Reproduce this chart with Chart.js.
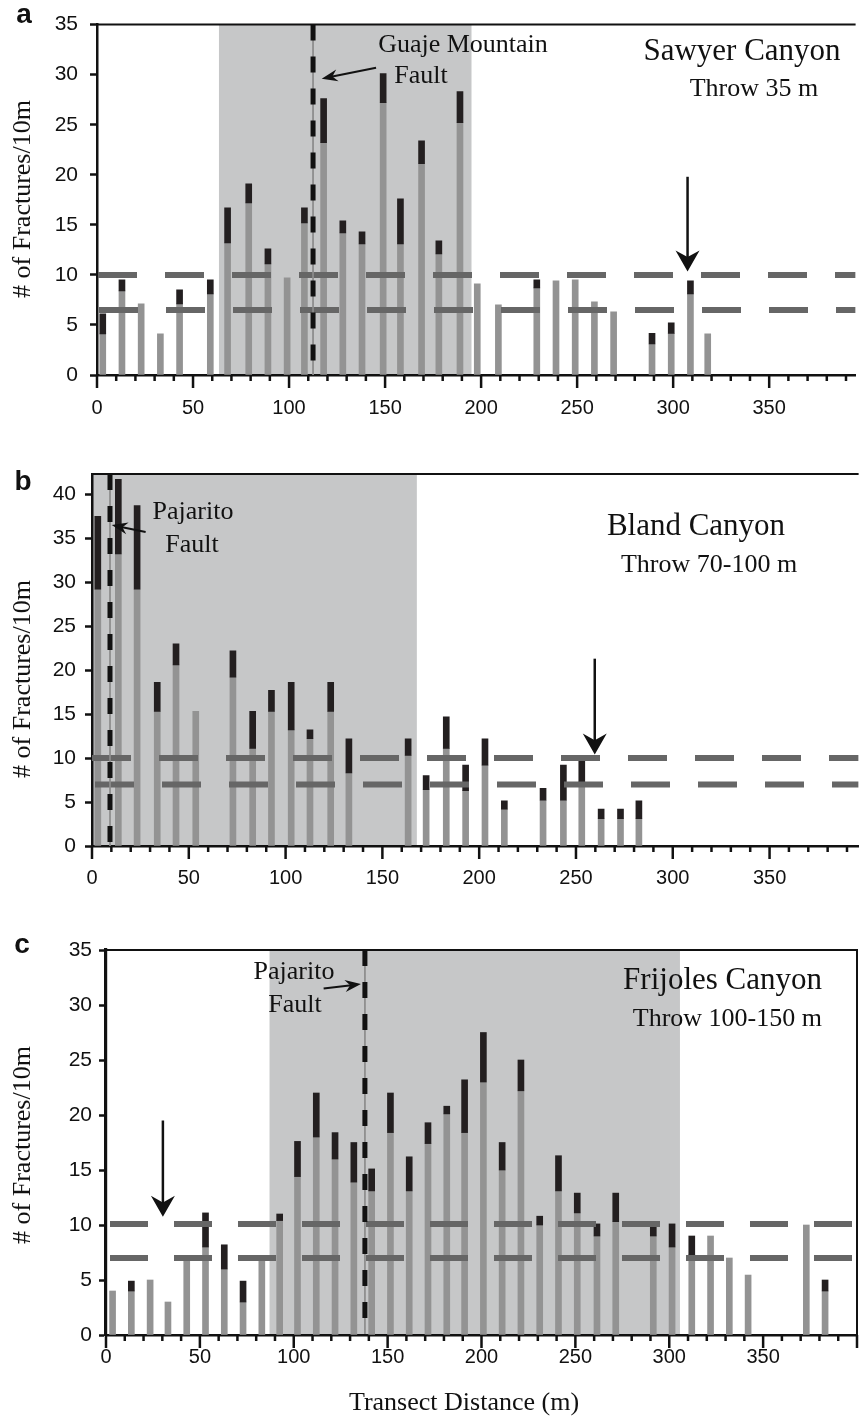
<!DOCTYPE html>
<html>
<head>
<meta charset="utf-8">
<style>
    body {
        margin: 0;
        background: #fff;
        width: 867px;
        height: 1418px;
        overflow: hidden;
        position: relative;
    }

    canvas {
        position: absolute;
        left: 0;
    }

    #chartA { top: 0; }
    #chartB { top: 440px; }
    #chartC { top: 900px; }
</style>
<script src="https://cdn.jsdelivr.net/npm/chart.js"></script>
</head>
<body>
<canvas id="chartA" width="867" height="430"></canvas>
<canvas id="chartB" width="867" height="460"></canvas>
<canvas id="chartC" width="867" height="518"></canvas>

<script>
    // ---- shared tick labels ----
    const xLabelValues = [0, 50, 100, 150, 200, 250, 300, 350];
    const yStep = 5;

    // ---- a : Sawyer Canyon ----
    const sawyerDist = [3, 13, 23, 33, 43, 59, 68, 79, 89, 99, 108, 118, 128, 138, 149, 158, 169, 178, 189, 198, 209, 229, 239, 249, 259, 269, 289, 299, 309, 318];
    const sawyerBase = [4.1, 8.4, 7.1, 4.1, 7.1, 8.1, 13.2, 17.2, 11.1, 9.7, 15.2, 23.2, 14.2, 13.1, 27.2, 13.1, 21.1, 12.1, 25.2, 9.1, 7.0, 8.7, 9.4, 9.5, 7.3, 6.3, 3.1, 4.15, 8.1, 4.1];
    const sawyerTotal = [6.1, 9.5, null, null, 8.5, 9.5, 16.7, 19.1, 12.6, null, 16.7, 27.6, 15.4, 14.3, 30.1, 17.6, 23.4, 13.4, 28.3, null, null, 9.5, null, null, null, null, 4.15, 5.2, 9.4, null];
    const sawyerLevels = [10, 6.5];
    const sawyerFault = 112.5;
    const sawyerZone = [63.5, 195];

    // ---- b : Bland Canyon ----
    const blandDist = [3, 13.6, 23.3, 33.7, 43.4, 53.6, 72.8, 83, 92.7, 102.9, 112.6, 123.3, 132.7, 163.3, 172.6, 183, 193, 203, 213, 233, 243.5, 253, 263, 273, 282.5];
    const blandBase = [29.2, 33.2, 29.2, 15.3, 20.6, 15.3, 19.2, 11.1, 15.3, 13.2, 12.2, 15.3, 8.3, 10.3, 6.4, 11.1, 6.3, 9.2, 4.2, 5.2, 5.2, 7.3, 3.1, 3.1, 3.1];
    const blandTotal = [37.5, 41.7, 38.7, 18.6, 23.0, null, 22.2, 15.3, 17.7, 18.6, 13.2, 18.6, 12.2, 12.2, 8.0, 14.7, 9.2, 12.2, 5.15, 6.55, 9.2, 9.7, 4.2, 4.2, 5.15];
    const blandLevels = [10, 7];
    const blandFault = 9.3;
    const blandZone = [0, 167.8];

    // ---- c : Frijoles Canyon ----
    const frijolesDist = [3.5, 13.5, 23.5, 33, 43, 53, 63, 73, 83, 92.5, 102, 112, 122, 132, 141.5, 151.5, 161.5, 171.5, 181.5, 191, 201, 211, 221, 231, 241, 251, 261.5, 271.5, 291.5, 301.5, 312, 322, 332, 342, 373, 383];
    const frijolesBase = [4.0, 4.0, 5.0, 3.0, 6.8, 8.0, 6.0, 3.0, 6.8, 10.4, 14.4, 18.0, 16.0, 13.9, 13.1, 18.4, 13.1, 17.4, 20.1, 18.4, 23.0, 15.0, 22.2, 10.0, 13.1, 11.1, 9.0, 10.3, 9.0, 8.0, 7.3, 9.0, 7.0, 5.45, 10.0, 4.0];
    const frijolesTotal = [null, 4.9, null, null, null, 11.1, 8.2, 4.9, null, 11.0, 17.6, 22.0, 18.4, 17.5, 15.1, 22.0, 16.2, 19.3, 20.8, 23.2, 27.5, 17.5, 25.0, 10.8, 16.3, 12.9, 10.1, 12.9, 9.85, 10.1, 9.0, null, null, null, null, 5.0];
    const frijolesLevels = [10.1, 7];
    const frijolesFault = 137.9;
    const frijolesZone = [87.1, 305.7];

    const INK = '#111';
    const SERIF = 'Liberation Serif';
    const SANS = 'Liberation Sans';

    function drawArrow(ctx, x0, y0, x1, y1, len, w, lw) {
        const ang = Math.atan2(y1 - y0, x1 - x0);
        ctx.save();
        ctx.lineWidth = lw;
        ctx.beginPath();
        ctx.moveTo(x0, y0);
        ctx.lineTo(x1 - Math.cos(ang) * len * 0.6, y1 - Math.sin(ang) * len * 0.6);
        ctx.stroke();
        ctx.translate(x1, y1);
        ctx.rotate(ang);
        ctx.beginPath();
        ctx.moveTo(0, 0);
        ctx.lineTo(-len, -w / 2);
        ctx.lineTo(-len * 0.68, 0);
        ctx.lineTo(-len, w / 2);
        ctx.closePath();
        ctx.fill();
        ctx.restore();
    }

    // shading, x ticks, frame, arrows and labels
    const panelDecor = {
        id: 'panelDecor',
        beforeDraw(chart, args, o) {
            const { ctx, chartArea: a, scales: { x } } = chart;
            const x0 = Math.max(x.getPixelForValue(o.zone[0]), a.left);
            const x1 = Math.min(x.getPixelForValue(o.zone[1]), a.right);
            ctx.save();
            ctx.fillStyle = '#c6c7c8';
            ctx.fillRect(x0, a.top, x1 - x0, a.bottom - a.top);
            ctx.restore();
        },
        afterDraw(chart, args, o) {
            const { ctx, chartArea: a, scales: { x, y } } = chart;
            ctx.save();
            ctx.strokeStyle = INK;
            ctx.fillStyle = INK;

            ctx.lineWidth = 2.5;
            x.ticks.forEach(t => {
                const px = x.getPixelForValue(t.value);
                ctx.beginPath();
                ctx.moveTo(px, a.bottom);
                ctx.lineTo(px, a.bottom + (t.value % 50 === 0 ? 13 : 6));
                ctx.stroke();
            });

            ctx.lineWidth = 2;
            ctx.beginPath();
            ctx.moveTo(a.left, a.top);
            ctx.lineTo(a.right, a.top);
            if (o.rightBorder) ctx.lineTo(a.right, a.bottom);
            ctx.stroke();

            o.arrows.forEach(ar => {
                drawArrow(ctx,
                    x.getPixelForValue(ar.from[0]), y.getPixelForValue(ar.from[1]),
                    x.getPixelForValue(ar.to[0]), y.getPixelForValue(ar.to[1]),
                    ar.len, ar.w, ar.lw);
            });

            o.texts.forEach(t => {
                ctx.font = t.font;
                ctx.textAlign = t.align || 'center';
                if (t.rot) {
                    ctx.save();
                    ctx.translate(t.x, t.y);
                    ctx.rotate(-Math.PI / 2);
                    ctx.textBaseline = 'middle';
                    ctx.fillText(t.text, 0, 0);
                    ctx.restore();
                } else {
                    ctx.textBaseline = 'alphabetic';
                    ctx.fillText(t.text, t.x, t.y);
                }
            });
            ctx.restore();
        }
    };

    function makePanel(canvasId, p) {
        const grayData = p.dist.map((d, i) => ({ x: d, y: [0, p.base[i]] }));
        const blackData = [];
        p.dist.forEach((d, i) => {
            if (p.total[i] != null) blackData.push({ x: d, y: [p.base[i], p.total[i]] });
        });

        const datasets = [
            { type: 'bar', data: grayData, backgroundColor: '#939393', barThickness: 6, grouped: false, order: 5 },
            { type: 'bar', data: blackData, backgroundColor: '#231f20', barThickness: 6, grouped: false, order: 4 }
        ];
        p.levels.forEach((lv, i) => {
            datasets.push({
                type: 'line', data: [{ x: 0, y: lv }, { x: p.xmax, y: lv }],
                borderColor: '#666666', borderWidth: 6, borderDash: p.dash, borderDashOffset: p.dashOffset[i],
                pointRadius: 0, order: 3
            });
        });
        const faultLine = [{ x: p.fault, y: p.ymax }, { x: p.fault, y: 0 }];
        datasets.push({ type: 'line', data: faultLine, borderColor: '#8c8c8c', borderWidth: 1, pointRadius: 0, order: 2 });
        datasets.push({ type: 'line', data: faultLine, borderColor: INK, borderWidth: 5, borderDash: [16, 16], pointRadius: 0, order: 1 });

        return new Chart(document.getElementById(canvasId), {
            type: 'bar',
            data: { datasets: datasets },
            options: {
                responsive: false,
                animation: false,
                devicePixelRatio: 1,
                events: [],
                layout: { padding: { top: p.padTop, right: p.padRight, left: 0, bottom: 0 } },
                plugins: {
                    legend: { display: false },
                    tooltip: { enabled: false },
                    panelDecor: { zone: p.zone, rightBorder: p.rightBorder, arrows: p.arrows, texts: p.texts }
                },
                scales: {
                    x: {
                        type: 'linear', min: 0, max: p.xmax, offset: false,
                        afterFit: s => { s.height = p.xHeight; },
                        ticks: {
                            stepSize: 10, includeBounds: false, autoSkip: false, maxRotation: 0,
                            padding: p.xPad, color: INK, font: { family: SANS, size: 20 },
                            callback: v => xLabelValues.includes(v) ? v : ''
                        },
                        grid: { drawOnChartArea: false, drawTicks: false },
                        border: { color: INK, width: 2.5 }
                    },
                    y: {
                        min: 0, max: p.ymax,
                        afterFit: s => { s.width = p.left; },
                        ticks: {
                            stepSize: yStep, includeBounds: false, padding: p.yPad,
                            color: INK, font: { family: SANS, size: 21 }
                        },
                        grid: { drawOnChartArea: false, tickLength: 7, tickColor: INK, tickWidth: 2.5 },
                        border: { color: INK, width: p.yAxisWidth }
                    }
                }
            },
            plugins: [panelDecor]
        });
    }

    const yTitle = '# of Fractures/10m';

    makePanel('chartA', {
        dist: sawyerDist, base: sawyerBase, total: sawyerTotal, levels: sawyerLevels,
        fault: sawyerFault, zone: sawyerZone,
        xmax: 395, ymax: 35, left: 97, padTop: 18, padRight: 0, xHeight: 55, xPad: 21, yPad: 12,
        dash: [39, 28], dashOffset: [-1, -2], rightBorder: false, yAxisWidth: 2.5,
        arrows: [
            { from: [145.3, 30.7], to: [117, 29.6], len: 16, w: 12, lw: 2 },
            { from: [307.5, 19.8], to: [307.5, 10.35], len: 21, w: 24, lw: 2.5 }
        ],
        texts: [
            { text: 'a', x: 24, y: 23, font: 'bold 28px ' + SANS },
            { text: yTitle, x: 23, y: 199, font: '26px ' + SERIF, rot: true },
            { text: 'Guaje Mountain', x: 463, y: 52, font: '26px ' + SERIF },
            { text: 'Fault', x: 421, y: 83, font: '26px ' + SERIF },
            { text: 'Sawyer Canyon', x: 742, y: 60, font: '31px ' + SERIF },
            { text: 'Throw 35 m', x: 754, y: 96, font: '26px ' + SERIF }
        ]
    });

    makePanel('chartB', {
        dist: blandDist, base: blandBase, total: blandTotal, levels: blandLevels,
        fault: blandFault, zone: blandZone,
        xmax: 396, ymax: 42.3, left: 92, padTop: 34, padRight: 0, xHeight: 54, xPad: 20, yPad: 9,
        dash: [39, 28], dashOffset: [0, -3], rightBorder: false, yAxisWidth: 2.5,
        arrows: [
            { from: [27.7, 35.7], to: [10.2, 36.5], len: 16, w: 12, lw: 2 },
            { from: [259.7, 21.3], to: [259.7, 10.4], len: 21, w: 24, lw: 2.5 }
        ],
        texts: [
            { text: 'b', x: 23, y: 50, font: 'bold 28px ' + SANS },
            { text: yTitle, x: 23, y: 239, font: '26px ' + SERIF, rot: true },
            { text: 'Pajarito', x: 193, y: 79, font: '26px ' + SERIF },
            { text: 'Fault', x: 192, y: 112, font: '26px ' + SERIF },
            { text: 'Bland Canyon', x: 696, y: 95, font: '31px ' + SERIF },
            { text: 'Throw 70-100 m', x: 709, y: 132, font: '26px ' + SERIF }
        ]
    });

    makePanel('chartC', {
        dist: frijolesDist, base: frijolesBase, total: frijolesTotal, levels: frijolesLevels,
        fault: frijolesFault, zone: frijolesZone,
        xmax: 400, ymax: 35, left: 106, padTop: 50, padRight: 5, xHeight: 83, xPad: 10, yPad: 7,
        dash: [38, 26], dashOffset: [-4, -4], rightBorder: true, yAxisWidth: 3.2,
        arrows: [
            { from: [115.9, 31.5], to: [135.8, 31.9], len: 16, w: 12, lw: 2 },
            { from: [30.3, 19.5], to: [30.3, 10.75], len: 21, w: 24, lw: 2.5 }
        ],
        texts: [
            { text: 'c', x: 22, y: 53, font: 'bold 28px ' + SANS },
            { text: yTitle, x: 23, y: 245, font: '26px ' + SERIF, rot: true },
            { text: 'Pajarito', x: 294, y: 79, font: '26px ' + SERIF },
            { text: 'Fault', x: 295, y: 112, font: '26px ' + SERIF },
            { text: 'Frijoles Canyon', x: 822, y: 89, font: '31px ' + SERIF, align: 'right' },
            { text: 'Throw 100-150 m', x: 822, y: 126, font: '26px ' + SERIF, align: 'right' },
            { text: 'Transect Distance (m)', x: 464, y: 510, font: '26px ' + SERIF }
        ]
    });
</script>
</body>
</html>
